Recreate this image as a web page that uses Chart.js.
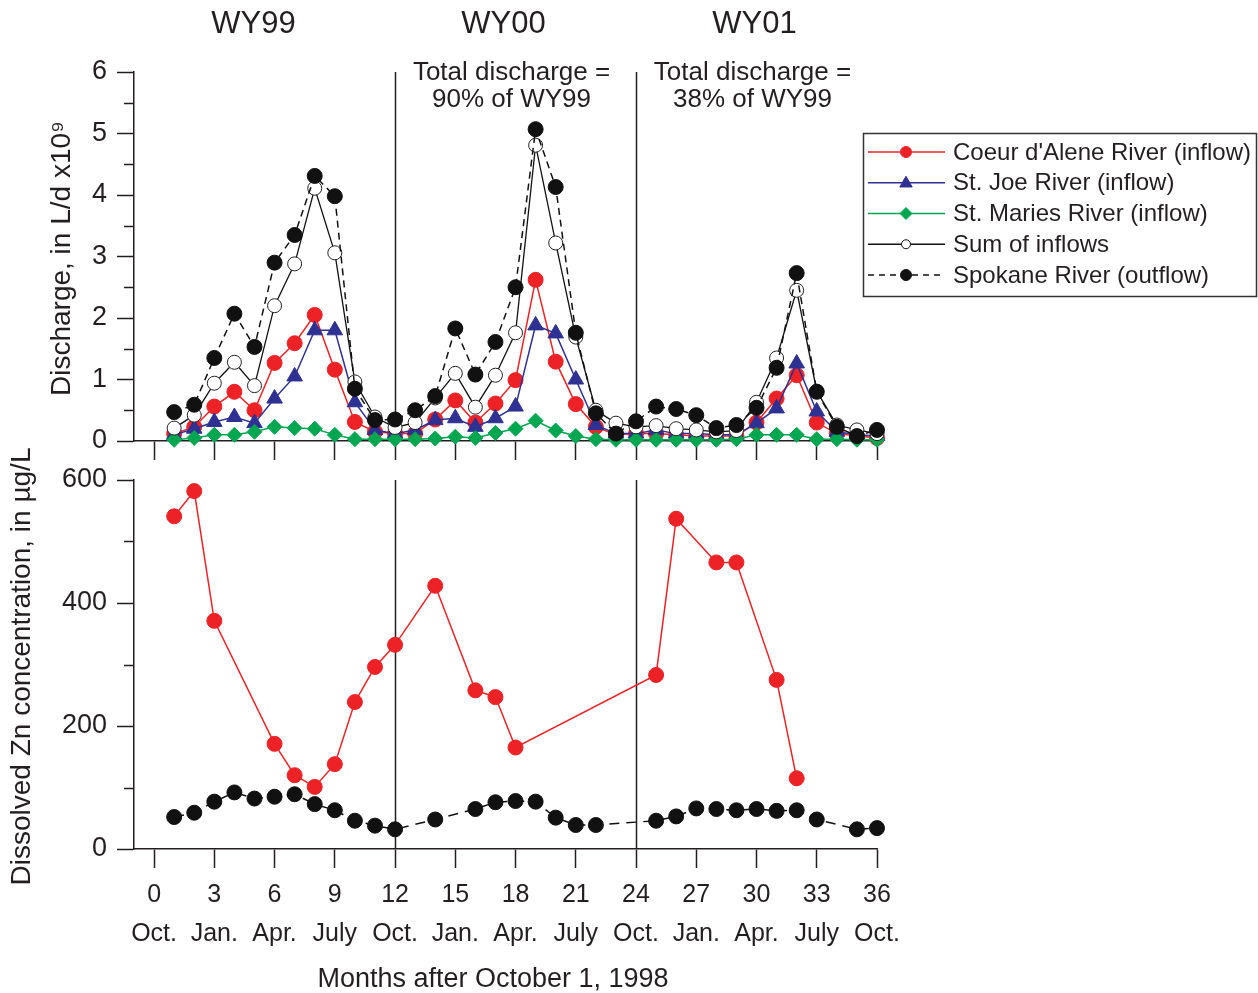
<!DOCTYPE html>
<html><head><meta charset="utf-8">
<script src="https://cdn.jsdelivr.net/npm/chart.js@4.4.0/dist/chart.umd.min.js"></script>
<style>
html,body{margin:0;padding:0;background:#fff;}
#wrap{position:relative;width:1258px;height:993px;overflow:hidden;}
canvas{position:absolute;left:0;}
#c1{top:0;} #c2{top:430px;}
</style></head><body>
<div id="wrap"><canvas id="c1" width="1258" height="470"></canvas><canvas id="c2" width="1258" height="563"></canvas></div>
<script>
// ---------- data ----------
const months = [1,2,3,4,5,6,7,8,9,10,11,12,13,14,15,16,17,18,19,20,21,22,23,24,25,26,27,28,29,30,31,32,33,34,35,36];
const coeurQ   = [0.12,0.23,0.56,0.80,0.50,1.27,1.59,2.05,1.16,0.31,0.15,0.12, 0.12,0.35,0.66,0.30,0.61,0.99,2.62,1.29,0.60,0.23,0.10,0.12, 0.12,0.10,0.08,0.08,0.08,0.30,0.69,1.07,0.30,0.12,0.08,0.05];
const joeQ     = [0.10,0.20,0.31,0.39,0.29,0.69,1.05,1.80,1.80,0.63,0.18,0.12, 0.18,0.34,0.37,0.23,0.37,0.56,1.88,1.75,1.00,0.26,0.12,0.12, 0.18,0.12,0.12,0.10,0.10,0.29,0.53,1.26,0.48,0.15,0.10,0.08];
const mariesQ  = [0.02,0.05,0.10,0.10,0.15,0.23,0.21,0.20,0.10,0.03,0.03,0.03, 0.03,0.04,0.07,0.05,0.13,0.20,0.33,0.17,0.08,0.03,0.02,0.02, 0.02,0.02,0.02,0.02,0.03,0.10,0.10,0.10,0.03,0.03,0.02,0.02];
const sumQ     = [0.21,0.42,0.94,1.28,0.90,2.20,2.88,4.11,3.06,0.96,0.39,0.22, 0.30,0.70,1.10,0.55,1.07,1.76,4.81,3.22,1.69,0.50,0.29,0.23, 0.25,0.20,0.18,0.15,0.17,0.63,1.35,2.45,0.81,0.26,0.18,0.12];
const spokaneQ = [0.47,0.59,1.35,2.07,1.53,2.90,3.35,4.31,3.98,0.85,0.34,0.35, 0.50,0.73,1.83,1.08,1.61,2.50,5.07,4.13,1.76,0.45,0.12,0.32, 0.56,0.52,0.42,0.21,0.26,0.54,1.19,2.73,0.80,0.23,0.08,0.18];

const coeurZnMonths = [1,2,3,6,7,8,9,10,11,12,14,16,17,18,25,26,28,29,31,32];
const coeurZn       = [541,582,371,171,120,101,138,239,296,332,428,258,247,165,283,537,466,466,275,115];
const spokaneZnMonths = [1,2,3,4,5,6,7,8,9,10,11,12,14,16,17,18,19,20,21,22,25,26,27,28,29,30,31,32,33,35,36];
const spokaneZn       = [52,59,77,92,82,85,89,73,63,46,38,32,48,65,76,78,77,51,39,39,46,53,66,65,63,65,62,63,48,32,34];

const xTicks = [0,3,6,9,12,15,18,21,24,27,30,33,36];
const monthLabels = ['Oct.','Jan.','Apr.','July','Oct.','Jan.','Apr.','July','Oct.','Jan.','Apr.','July','Oct.'];
const qTicks = [0,1,2,3,4,5,6];
const qMinor = [0.5,1.5,2.5,3.5,4.5,5.5];
const znTicks = [0,200,400,600];
const znMinor = [100,300,500];
const yearBounds = [12,24];
const yearNames = ['WY99','WY00','WY01'];
const noteLines = [['Total discharge =','90% of WY99'],['Total discharge =','38% of WY99']];
const seriesNames = ['Coeur d\'Alene River (inflow)','St. Joe River (inflow)','St. Maries River (inflow)','Sum of inflows','Spokane River (outflow)'];
const qTitle = 'Discharge, in L/d x10\u2079';
const znTitle = 'Dissolved Zn concentration, in \u00b5g/L';
const xTitle = 'Months after October 1, 1998';

// ---------- style ----------
const FONT = "'Liberation Sans', Arial, Helvetica, sans-serif";
const INK = '#231f20';
const RED = '#ec2227', BLUE = '#2e3192', GREEN = '#00a650', BLACK = '#111';
const yearNamePos = [4.95, 17.4, 29.9];
const notePos = [17.8, 29.8];

function pts(xs, ys){ return xs.map((m,i)=>({x:m, y:ys[i]})); }

function xScale(showLabels, h){
  return {
    type:'linear', min:-1, max:36,
    afterBuildTicks: s => { s.ticks = xTicks.map(v=>({value:v})); },
    afterFit: s => { s.height = h; s.paddingLeft = 0; s.paddingRight = 0; s.paddingTop = 0; s.paddingBottom = 0; },
    grid:{drawOnChartArea:false, drawTicks:true, tickLength:19, tickColor:INK, tickWidth:1.5},
    border:{display:true, color:INK, width:1.5},
    ticks:{display:showLabels, autoSkip:false, maxRotation:0, minRotation:0, padding:8, color:INK,
      font:{family:FONT, size:25, lineHeight:1.56},
      callback:(v)=>{ const i = xTicks.indexOf(v); return [String(v), monthLabels[i]]; }}
  };
}
function yScale(max, ticks){
  return {
    type:'linear', min:0, max:max,
    afterBuildTicks: s => { s.ticks = ticks.map(v=>({value:v})); },
    afterFit: s => { s.width = 134; s.paddingTop = 0; s.paddingBottom = 0; s.paddingLeft = 0; s.paddingRight = 0; },
    grid:{drawOnChartArea:false, drawTicks:true, tickLength:17, tickColor:INK, tickWidth:1.5},
    border:{display:true, color:INK, width:1.5},
    ticks:{padding:10, color:INK, font:{family:FONT, size:27}}
  };
}

function framePlugin(minor, title, titleX, extra){
  return {
    id:'frame',
    beforeDatasetsDraw(chart){
      const {ctx, chartArea:a, scales:{x}} = chart;
      ctx.save(); ctx.strokeStyle = INK; ctx.lineWidth = 1.5;
      yearBounds.forEach(v=>{ const px = Math.round(x.getPixelForValue(v))+0.5;
        ctx.beginPath(); ctx.moveTo(px, a.top); ctx.lineTo(px, a.bottom); ctx.stroke(); });
      ctx.restore();
    },
    afterDraw(chart){
      const {ctx, chartArea:a, scales:{y}} = chart;
      ctx.save(); ctx.strokeStyle = INK; ctx.lineWidth = 1.5;
      minor.forEach(v=>{ const py = Math.round(y.getPixelForValue(v))+0.5;
        ctx.beginPath(); ctx.moveTo(a.left-10, py); ctx.lineTo(a.left, py); ctx.stroke(); });
      // rotated y-axis title
      ctx.translate(titleX, (a.top + a.bottom)/2 + 2);
      ctx.rotate(-Math.PI/2);
      ctx.fillStyle = INK; ctx.textAlign = 'center'; ctx.textBaseline = 'middle';
      ctx.font = `28px ${FONT}`;
      ctx.fillText(title, 0, 0);
      ctx.restore();
      if (extra) extra(chart);
    }
  };
}

function marker(ctx, style, x, y, r, fill, stroke){
  ctx.beginPath();
  if (style==='circle'){ ctx.arc(x,y,r,0,Math.PI*2); }
  else if (style==='triangle'){ ctx.moveTo(x, y-r); ctx.lineTo(x+r*0.95, y+r*0.65); ctx.lineTo(x-r*0.95, y+r*0.65); ctx.closePath(); }
  else if (style==='rectRot'){ ctx.moveTo(x,y-r); ctx.lineTo(x+r,y); ctx.lineTo(x,y+r); ctx.lineTo(x-r,y); ctx.closePath(); }
  ctx.fillStyle = fill; ctx.fill(); ctx.strokeStyle = stroke; ctx.lineWidth = 1; ctx.stroke();
}

function topExtras(chart){
  const {ctx, scales:{x}} = chart;
  ctx.save();
  ctx.fillStyle = INK; ctx.textAlign='center'; ctx.textBaseline='middle';
  ctx.font = `31px ${FONT}`;
  yearNames.forEach((t,i)=> ctx.fillText(t, x.getPixelForValue(yearNamePos[i]), 24));
  ctx.font = `26px ${FONT}`;
  noteLines.forEach((lines,i)=>{ lines.forEach((t,j)=> ctx.fillText(t, x.getPixelForValue(notePos[i]), 73 + j*27)); });
  // legend
  ctx.strokeStyle = '#333'; ctx.lineWidth = 1.5;
  ctx.strokeRect(863.5, 133.5, 393, 163);
  const styles = [
    {c:RED, p:'circle', r:5.5, f:RED, dash:[]},
    {c:BLUE, p:'triangle', r:6.5, f:BLUE, dash:[]},
    {c:GREEN, p:'rectRot', r:6, f:GREEN, dash:[]},
    {c:BLACK, p:'circle', r:4.5, f:'#fff', dash:[]},
    {c:BLACK, p:'circle', r:5.5, f:BLACK, dash:[6,5]}
  ];
  ctx.textAlign='left'; ctx.font = `24px ${FONT}`;
  styles.forEach((s,i)=>{
    const y = 152 + i*30.75;
    ctx.save(); ctx.strokeStyle = s.c; ctx.lineWidth = 1.5; ctx.setLineDash(s.dash);
    ctx.beginPath(); ctx.moveTo(868, y); ctx.lineTo(945, y); ctx.stroke(); ctx.restore();
    marker(ctx, s.p, 906, y, s.r, s.f, s.c);
    ctx.fillStyle = INK; ctx.fillText(seriesNames[i], 953, y+1);
  });
  ctx.restore();
}
function bottomExtras(chart){
  const {ctx} = chart;
  ctx.save(); ctx.fillStyle = INK; ctx.textAlign='center'; ctx.textBaseline='middle';
  ctx.font = `27px ${FONT}`;
  ctx.fillText(xTitle, 493, 550);
  ctx.restore();
}

Chart.defaults.font.family = FONT;
Chart.defaults.color = INK;

const common = {responsive:false, animation:false, devicePixelRatio:1,
  plugins:{legend:{display:false}, tooltip:{enabled:false}}, elements:{line:{tension:0}}};

new Chart(document.getElementById('c1'), {
  type:'line',
  data:{datasets:[
    {label:seriesNames[0], data:pts(months, coeurQ), order:5, borderColor:RED, borderWidth:1.5, pointStyle:'circle', pointRadius:7.5, pointBackgroundColor:RED, pointBorderColor:RED, pointBorderWidth:1, clip:false},
    {label:seriesNames[1], data:pts(months, joeQ), order:4, borderColor:BLUE, borderWidth:1.5, pointStyle:'triangle', pointRadius:9, pointBackgroundColor:BLUE, pointBorderColor:BLUE, pointBorderWidth:1, clip:false},
    {label:seriesNames[2], data:pts(months, mariesQ), order:3, borderColor:GREEN, borderWidth:1.5, pointStyle:'rectRot', pointRadius:7.5, pointBackgroundColor:GREEN, pointBorderColor:GREEN, pointBorderWidth:1, clip:false},
    {label:seriesNames[3], data:pts(months, sumQ), order:2, borderColor:BLACK, borderWidth:1.3, pointStyle:'circle', pointRadius:7, pointBackgroundColor:'#fff', pointBorderColor:'#222', pointBorderWidth:1, clip:false},
    {label:seriesNames[4], data:pts(months, spokaneQ), order:1, borderColor:BLACK, borderWidth:1.5, borderDash:[7,5], pointStyle:'circle', pointRadius:7.5, pointBackgroundColor:BLACK, pointBorderColor:BLACK, pointBorderWidth:1, clip:false}
  ]},
  options:Object.assign({}, common, {
    layout:{padding:{top:72, right:381, left:0, bottom:0}},
    scales:{ x:xScale(false, 29), y:yScale(6, qTicks) }
  }),
  plugins:[framePlugin(qMinor, qTitle, 62, topExtras)]
});

new Chart(document.getElementById('c2'), {
  type:'line',
  data:{datasets:[
    {label:'Coeur d\'Alene River Zn', data:pts(coeurZnMonths, coeurZn), order:1, borderColor:RED, borderWidth:1.5, pointStyle:'circle', pointRadius:7.5, pointBackgroundColor:RED, pointBorderColor:RED, pointBorderWidth:1, clip:false},
    {label:'Spokane River Zn', data:pts(spokaneZnMonths, spokaneZn), order:2, borderColor:BLACK, borderWidth:1.5, borderDash:[10,7], pointStyle:'circle', pointRadius:7.5, pointBackgroundColor:BLACK, pointBorderColor:BLACK, pointBorderWidth:1, clip:false}
  ]},
  options:Object.assign({}, common, {
    layout:{padding:{top:50, right:381, left:0, bottom:0}},
    scales:{ x:xScale(true, 144), y:yScale(600, znTicks) }
  }),
  plugins:[framePlugin(znMinor, znTitle, 22, bottomExtras)]
});
</script>
</body></html>
